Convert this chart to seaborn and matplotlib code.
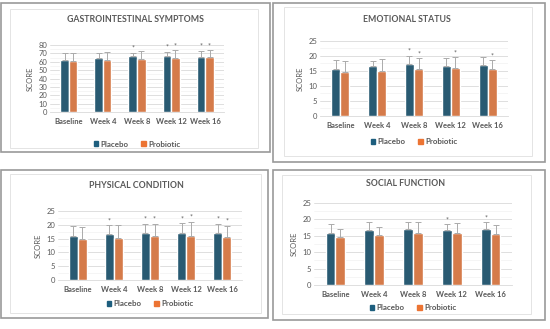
import matplotlib
matplotlib.use("Agg")
from matplotlib import pyplot as plt
from matplotlib.patches import Rectangle
from matplotlib.ticker import MultipleLocator
import seaborn as sns
import pandas as pd

# data
weeks = ["Baseline", "Week 4", "Week 8", "Week 12", "Week 16"]
groups = ["Placebo", "Probiotic"]

gi_placebo = [61.5, 65, 66.5, 67, 66]
gi_probiotic = [61, 62.5, 63, 65, 65.5]
gi_placebo_err = [8.5, 6, 4.5, 5, 7]
gi_probiotic_err = [10, 9.5, 9.5, 8.5, 8.5]
gi_placebo_star = [0, 0, 1, 1, 1]
gi_probiotic_star = [0, 0, 0, 1, 1]

emo_placebo = [15.8, 16.6, 17.2, 16.8, 17.0]
emo_probiotic = [14.6, 15.0, 15.8, 16.0, 15.6]
emo_placebo_err = [3.0, 1.6, 2.8, 2.4, 2.5]
emo_probiotic_err = [3.6, 4.0, 3.4, 3.5, 3.0]
emo_placebo_star = [0, 0, 1, 0, 0]
emo_probiotic_star = [0, 0, 1, 1, 1]

phys_placebo = [15.8, 16.7, 17.2, 16.9, 17.0]
phys_probiotic = [14.7, 15.1, 15.9, 16.0, 15.6]
phys_placebo_err = [3.8, 3.2, 3.1, 3.7, 3.3]
phys_probiotic_err = [4.6, 4.9, 4.4, 5.1, 4.1]
phys_placebo_star = [0, 1, 1, 1, 1]
phys_probiotic_star = [0, 0, 1, 1, 1]

soc_placebo = [15.8, 16.7, 17.2, 16.9, 17.0]
soc_probiotic = [14.7, 15.1, 15.9, 16.0, 15.6]
soc_placebo_err = [2.7, 2.4, 1.9, 1.6, 2.1]
soc_probiotic_err = [2.3, 2.7, 3.2, 3.0, 2.6]
soc_placebo_star = [0, 0, 0, 1, 1]
soc_probiotic_star = [0, 0, 0, 0, 0]

sns.set_style("white")
plt.rcParams["font.family"] = ["Lato", "DejaVu Sans"]

W, H = 550, 329
TEXT = "#595959"
colors = {"Placebo": "#1D5E7E", "Probiotic": "#EC7433"}


def fbox(x0, y0, x1, y1):
    # pixel box (top-left origin) -> figure fraction rect
    return [x0 / W, 1 - y1 / H, (x1 - x0) / W, (y1 - y0) / H]


fig = plt.figure(figsize=(5.5, 3.29), dpi=100)
fig.patch.set_facecolor("white")

panels = [
    dict(title="GASTROINTESTINAL SYMPTOMS", p=gi_placebo, q=gi_probiotic,
         pe=gi_placebo_err, qe=gi_probiotic_err, ps=gi_placebo_star, qs=gi_probiotic_star,
         ymax=80, step=10, outer=(1, 3, 270, 152), inner=(10, 9, 258, 148),
         ax=(50, 45, 224, 112), title_xy=(135, 19), leg_y=144),
    dict(title="EMOTIONAL STATUS", p=emo_placebo, q=emo_probiotic,
         pe=emo_placebo_err, qe=emo_probiotic_err, ps=emo_placebo_star, qs=emo_probiotic_star,
         ymax=25, step=5, outer=(273, 3, 545, 162), inner=(284, 7, 532, 156),
         ax=(320, 41, 508, 116), title_xy=(407, 19), leg_y=142),
    dict(title="PHYSICAL CONDITION", p=phys_placebo, q=phys_probiotic,
         pe=phys_placebo_err, qe=phys_probiotic_err, ps=phys_placebo_star, qs=phys_probiotic_star,
         ymax=25, step=5, outer=(1, 170, 268, 318), inner=(10, 174, 261, 313),
         ax=(58, 211, 242, 280), title_xy=(136, 185), leg_y=304),
    dict(title="SOCIAL FUNCTION", p=soc_placebo, q=soc_probiotic,
         pe=soc_placebo_err, qe=soc_probiotic_err, ps=soc_placebo_star, qs=soc_probiotic_star,
         ymax=25, step=5, outer=(273, 170, 545, 320), inner=(282, 175, 531, 314),
         ax=(314, 203, 512, 285), title_xy=(406, 184), leg_y=308),
]

for pan in panels:
    # frames
    fig.add_artist(Rectangle(fbox(*pan["outer"])[:2], *fbox(*pan["outer"])[2:],
                             transform=fig.transFigure, fill=False,
                             edgecolor="#999999", lw=1.2))
    fig.add_artist(Rectangle(fbox(*pan["inner"])[:2], *fbox(*pan["inner"])[2:],
                             transform=fig.transFigure, fill=False,
                             edgecolor="#E4E4E4", lw=0.7))
    fig.text(pan["title_xy"][0] / W, 1 - pan["title_xy"][1] / H, pan["title"],
             ha="center", va="center", fontsize=6.3, fontweight="bold", color=TEXT)

    ax = fig.add_axes(fbox(*pan["ax"]))
    df = pd.DataFrame({
        "Week": weeks * 2,
        "Group": ["Placebo"] * 5 + ["Probiotic"] * 5,
        "Score": pan["p"] + pan["q"],
    })
    sns.barplot(data=df, x="Week", y="Score", hue="Group", palette=colors,
                errorbar=None, width=0.5, gap=0, ax=ax, legend=False, zorder=3)

    errs = [pan["pe"], pan["qe"]]
    stars = [pan["ps"], pan["qs"]]
    bar_sets = list(ax.containers)
    for k, cont in enumerate(bar_sets):
        for i, bar in enumerate(cont.patches):
            xc = bar.get_x() + bar.get_width() / 2
            h = bar.get_height()
            ax.errorbar(xc, h, yerr=[[0], [errs[k][i]]], fmt="none",
                        ecolor="#ABABAB", elinewidth=0.7, capsize=2,
                        capthick=0.7, zorder=4)
            if stars[k][i]:
                ax.text(xc, h + errs[k][i] + pan["ymax"] * 0.015, "*",
                        ha="center", va="bottom", fontsize=5, color=TEXT)

    ax.set_ylim(0, pan["ymax"])
    ax.set_xlim(-0.55, 4.55)
    ax.yaxis.set_major_locator(MultipleLocator(pan["step"]))
    ax.yaxis.set_minor_locator(MultipleLocator(pan["step"] / 2))
    ax.grid(axis="y", which="major", color="#D9D9D9", lw=0.6, zorder=0)
    ax.grid(axis="y", which="minor", color="#F2F2F2", lw=0.5, zorder=0)
    ax.set_axisbelow(True)
    for s in ["top", "right", "left"]:
        ax.spines[s].set_visible(False)
    ax.spines["bottom"].set_color("#D9D9D9")
    ax.spines["bottom"].set_linewidth(0.6)
    ax.tick_params(axis="both", which="both", length=0, labelsize=5.5, labelcolor=TEXT, pad=2)
    ax.tick_params(axis="x", pad=4)
    for lab in ax.get_xticklabels():
        lab.set_fontweight("bold")
    ax.set_xlabel("")
    ax.set_ylabel("SCORE", fontsize=5.5, color=TEXT, labelpad=3)

    # legend below the plot
    handles = [Rectangle((0, 0), 1, 1, color=colors[g]) for g in groups]
    leg = fig.legend(handles, groups, loc="center",
                     bbox_to_anchor=(((pan["ax"][0] + pan["ax"][2]) / 2) / W, 1 - pan["leg_y"] / H),
                     ncol=2, frameon=False, fontsize=5.8, labelcolor=TEXT,
                     handlelength=0.6, handleheight=0.6, handletextpad=0.3, columnspacing=1.5)
    for t in leg.get_texts():
        t.set_fontweight("bold")

fig.savefig("out.png", dpi=100, facecolor="white")
